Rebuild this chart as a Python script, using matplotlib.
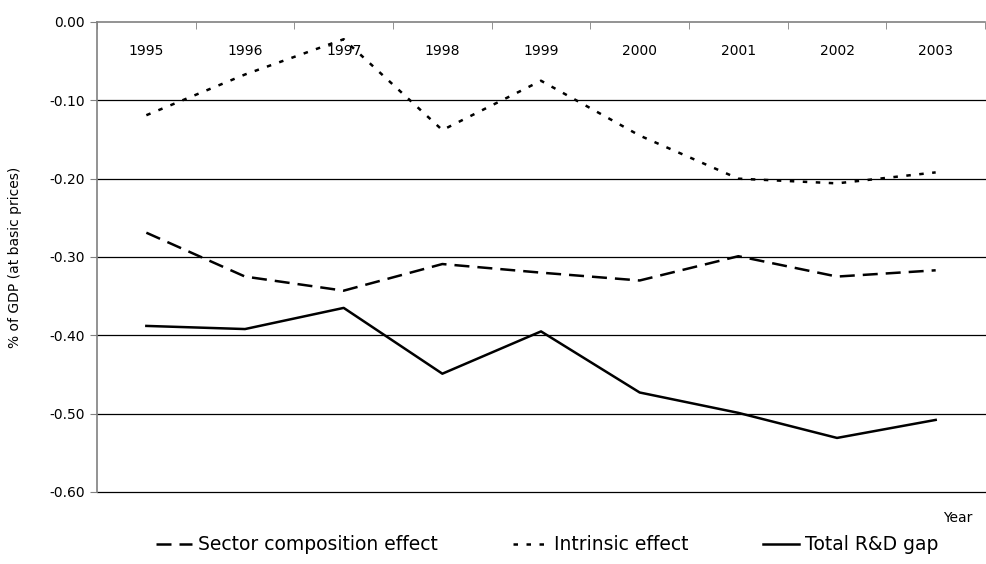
import matplotlib
matplotlib.use("Agg")
from matplotlib import pyplot as plt
from matplotlib.ticker import FormatStrFormatter

years = ["1995", "1996", "1997", "1998", "1999", "2000", "2001", "2002", "2003"]
sector_effect = [-0.269, -0.325, -0.343, -0.309, -0.320, -0.330, -0.299, -0.325, -0.317]
intrinsic_effect = [-0.119, -0.067, -0.022, -0.138, -0.075, -0.145, -0.200, -0.206, -0.192]
total_gap = [-0.388, -0.392, -0.365, -0.449, -0.395, -0.473, -0.499, -0.531, -0.508]
y_ticks = [0.0, -0.1, -0.2, -0.3, -0.4, -0.5, -0.6]

fig = plt.figure(figsize=(9.86, 5.64), dpi=100)
ax = fig.add_axes([0.0984, 0.1277, 0.9006, 0.8333])

x = list(range(len(years)))
lw = 1.8
ax.plot(x, sector_effect, color="black", lw=lw, linestyle=(0, (6, 3.2)),
        label="Sector composition effect")
ax.plot(x, intrinsic_effect, color="black", lw=lw, linestyle=(0, (1.8, 3.4)),
        label="Intrinsic effect")
ax.plot(x, total_gap, color="black", lw=lw, linestyle="-", label="Total R&D gap")

ax.set_xlim(-0.5, len(years) - 0.5)
ax.set_ylim(-0.6, 0.0)

# gridlines (the bottom one too)
ax.set_yticks(y_ticks)
ax.yaxis.set_major_formatter(FormatStrFormatter("%.2f"))
for v in y_ticks[1:]:
    ax.axhline(v, color="black", lw=0.9, zorder=0, clip_on=False)

# spines
for s in ["right", "bottom"]:
    ax.spines[s].set_visible(False)
ax.spines["left"].set_color("#808080")
ax.spines["top"].set_color("#808080")
ax.spines["left"].set_linewidth(1.2)
ax.spines["top"].set_linewidth(1.2)

# x labels on top, inside the plot
ax.xaxis.tick_top()
ax.set_xticks(x)
ax.set_xticklabels(years)
ax.set_xticks([i - 0.5 for i in range(len(years) + 1)], minor=True)
ax.tick_params(axis="x", which="major", length=0, pad=-26, labelsize=10)
ax.tick_params(axis="x", which="minor", direction="in", length=5, color="#808080")
ax.tick_params(axis="y", direction="out", length=5, color="#808080", labelsize=10)

ax.set_ylabel("% of GDP (at basic prices)", fontsize=10, labelpad=20)
fig.text(0.986, 0.081, "Year", fontsize=10, ha="right", va="center")

fig.legend(loc="center", bbox_to_anchor=(0.555, 0.034), ncol=3, frameon=False,
           fontsize=13.5, handlelength=1.9, handletextpad=0.3, columnspacing=4.0)

fig.savefig("out.png", dpi=100)
